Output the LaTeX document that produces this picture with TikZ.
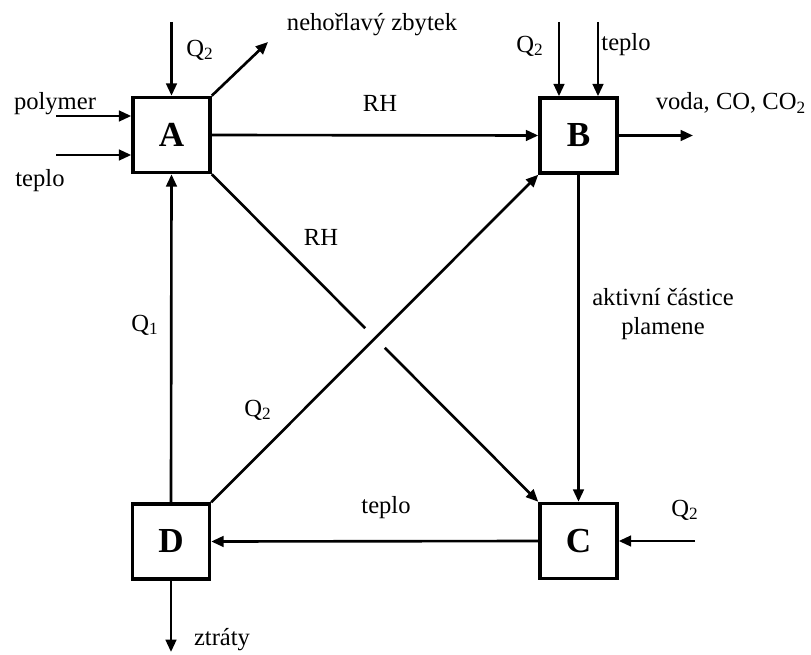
\documentclass[tikz,border=0pt]{standalone}
\usepackage{fontspec}
\setmainfont{Liberation Serif}
\usetikzlibrary{arrows.meta,calc}

\tikzset{
  proc/.style={draw,line width=2pt,minimum width=1.54cm,minimum height=1.5cm,
    inner sep=0pt,font=\fontsize{20}{22}\selectfont\bfseries},
  arr/.style={line width=1.5pt,-{Triangle[length=7pt,width=6pt]}},
  line/.style={line width=1.5pt},
  lbl/.style={font=\fontsize{14}{17}\selectfont,inner sep=1pt}
}

\begin{document}
\begin{tikzpicture}[x=0.02cm,y=-0.02cm]
  \useasboundingbox (0,0) rectangle (811,655);
  % the four boxes
  \node[proc] (A) at (171.5,135) {A};
  \node[proc] (B) at (578.5,135.5) {B};
  \node[proc] (C) at (578.5,541) {C};
  \node[proc] (D) at (171,541.5) {D};
  % free ends
  \coordinate (qa) at (171.5,22);
  \coordinate (nz) at (268,42);
  \coordinate (pol) at (56,116);
  \coordinate (tep) at (56,155);
  \coordinate (qb) at (559,22);
  \coordinate (tb) at (598,22);
  \coordinate (out) at (693,135.5);
  \coordinate (qc) at (695,541);
  \coordinate (ztr) at (171,652);
  % gap where the two diagonals cross
  \coordinate (g1) at ($(A.south east)!0.47!(C.north west)$);
  \coordinate (g2) at ($(A.south east)!0.53!(C.north west)$);

  \draw[arr] (qa) -- (A.north);
  \draw[arr] (A.north east) -- (nz);
  \draw[arr] (pol) -- (pol -| A.west);
  \draw[arr] (tep) -- (tep -| A.west);
  \draw[arr] (A.east) -- (B.west);
  \draw[arr] (qb) -- (qb |- B.north);
  \draw[arr] (tb) -- (tb |- B.north);
  \draw[arr] (B.east) -- (out);
  \draw[arr] (B.south) -- (C.north);
  \draw[arr] (qc) -- (C.east);
  \draw[arr] (C.west) -- (D.east);
  \draw[arr] (D.north) -- (A.south);
  \draw[arr] (D.south) -- (ztr);
  \draw[arr] (D.north east) -- (B.south west);
  \draw[line] (A.south east) -- (g1);
  \draw[arr] (g2) -- (C.north west);

  % labels
  \node[lbl] (lqa) at (200,50) {Q\textsubscript{2}};
  \node[lbl] (lnz) at (372,25) {nehořlavý zbytek};
  \node[lbl] (lpol) at (55,104) {polymer};
  \node[lbl] (ltep) at (40,181) {teplo};
  \node[lbl] (lrh) at (380,103) {RH};
  \node[lbl] (lrh2) at (321,237) {RH};
  \node[lbl] (lqb) at (530,46) {Q\textsubscript{2}};
  \node[lbl] (ltb) at (626,45) {teplo};
  \node[lbl] (lout) at (731,103) {voda, CO, CO\textsubscript{2}};
  \node[lbl,align=center] (lakt) at (663,314) {aktivní částice\\plamene};
  \node[lbl] (lq1) at (145,325) {Q\textsubscript{1}};
  \node[lbl] (lq2) at (258,410) {Q\textsubscript{2}};
  \node[lbl] (ltc) at (386,508) {teplo};
  \node[lbl] (lqc) at (685,510) {Q\textsubscript{2}};
  \node[lbl] (lztr) at (222,640) {ztráty};
\end{tikzpicture}
\end{document}
